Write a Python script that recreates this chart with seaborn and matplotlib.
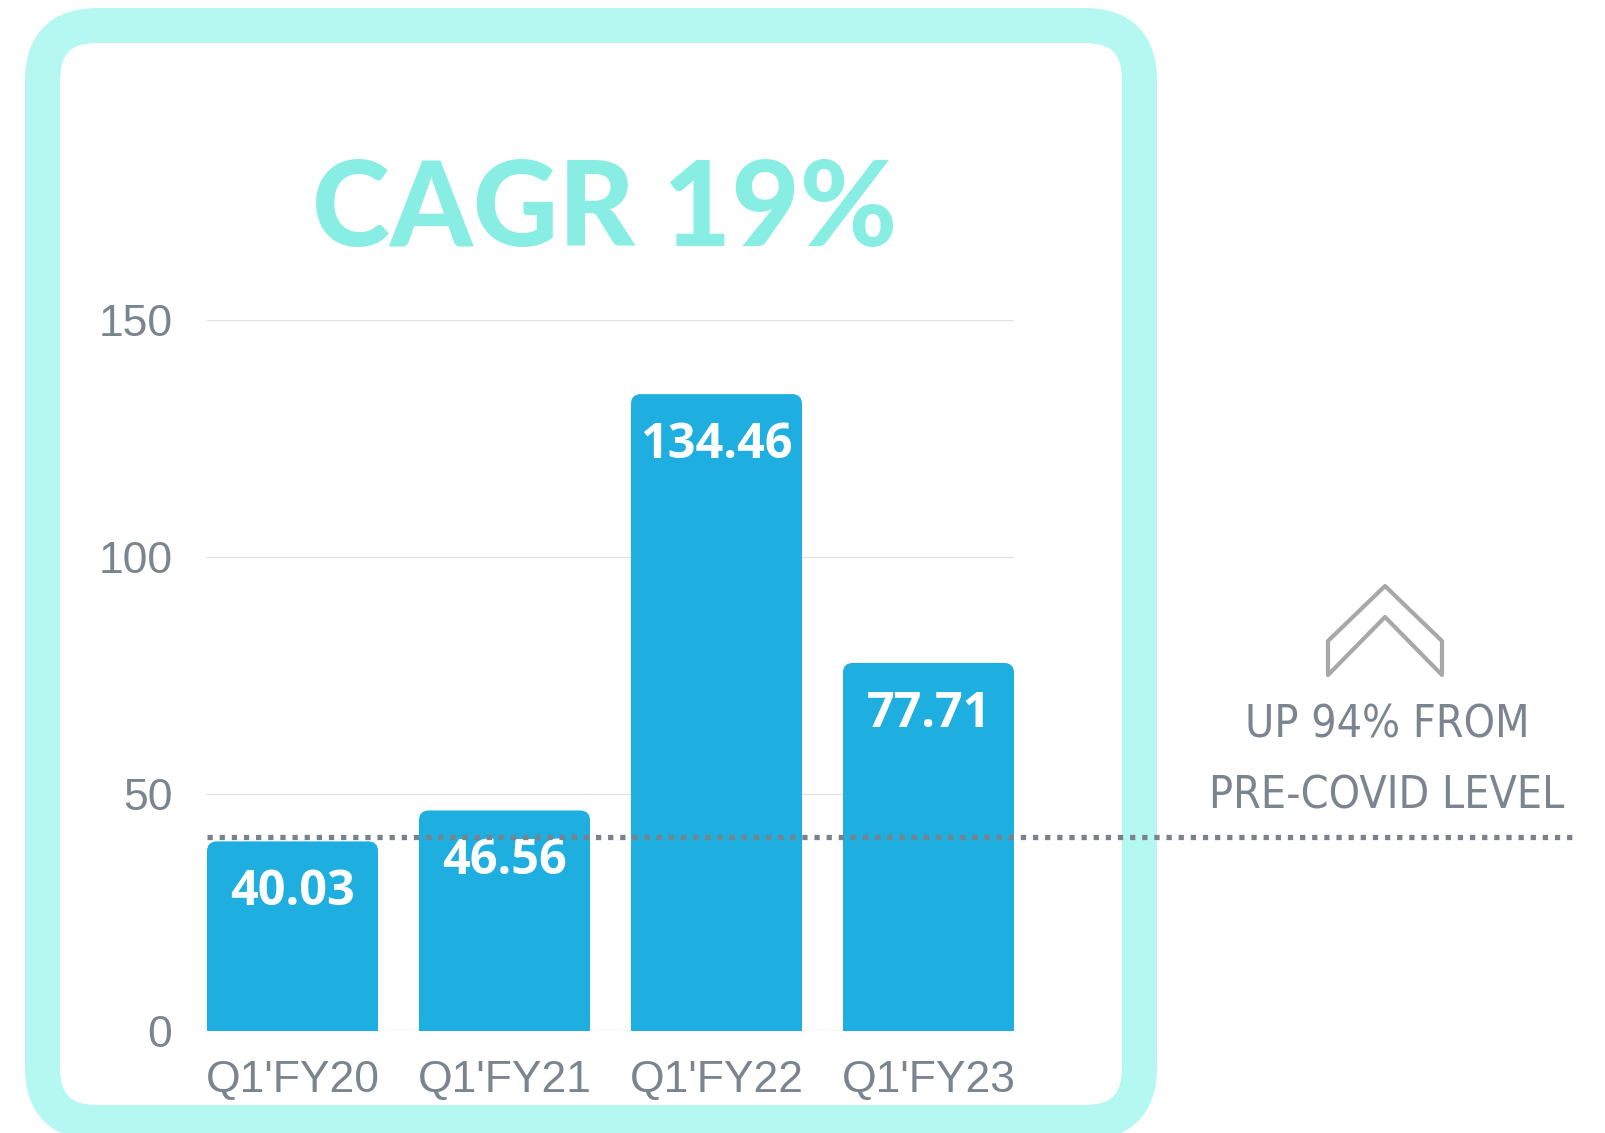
import numpy as np
import pandas as pd
import matplotlib
matplotlib.use('Agg')
import matplotlib.pyplot as plt
import matplotlib.transforms as mtransforms
from matplotlib.patches import FancyBboxPatch, Rectangle, Polygon
from matplotlib.lines import Line2D
import seaborn as sns

# data
quarters = ["Q1'FY20", "Q1'FY21", "Q1'FY22", "Q1'FY23"]
values = [40.03, 46.56, 134.46, 77.71]
y_ticks = [0, 50, 100, 150]
pre_covid_level = 41
title_text = "CAGR 19%"
note_lines = ["UP 94% FROM", "PRE-COVID LEVEL"]

BAR = '#1EAEE0'
FRAME = '#B5F8F2'
TITLE = '#88EEE4'
GREY_TXT = '#7A8590'
DOT = '#7A838C'
CHEVRON = '#A8A8A8'

sns.set_theme(style='white')
plt.rcParams['font.family'] = ['Liberation Sans', 'DejaVu Sans']

W, H = 1606, 1133
fig = plt.figure(figsize=(W / 100, H / 100), dpi=100)

# background overlay in pixel units
bg = fig.add_axes([0, 0, 1, 1], zorder=0)
bg.set_xlim(0, W)
bg.set_ylim(H, 0)
bg.axis('off')

# rounded frame
frame = FancyBboxPatch((42.5, 25.5), 1097, 1097, boxstyle="round,pad=0,rounding_size=55",
                       facecolor='none', edgecolor=FRAME, linewidth=25.2)
bg.add_patch(frame)

# title
bg.text(605, 212, title_text, ha='center', va='center', color=TITLE,
        fontsize=85, fontweight='black', family=['Lato', 'DejaVu Sans'])

# chevron
chev = Polygon([(1385, 586), (1328, 641), (1328, 675), (1385, 617),
                (1442, 675), (1442, 641)], closed=True, facecolor='none',
               edgecolor=CHEVRON, linewidth=3, joinstyle='round')
bg.add_patch(chev)

for y, line in zip([725, 796], note_lines):
    bg.text(1387, y, line, ha='center', va='center', color=GREY_TXT,
            fontsize=32, fontstretch='condensed', family=['DejaVu Sans'])

# main chart
ax = fig.add_axes([207 / W, 1 - 1031 / H, 807 / W, (1031 - 320.5) / H], zorder=1)
ax.set_facecolor('none')
bw = 0.807
df = pd.DataFrame({'quarter': quarters, 'value': values})
sns.barplot(data=df, x='quarter', y='value', color=BAR, saturation=1,
            width=bw, ax=ax, zorder=3)

ax.set_xlim(-bw / 2, len(quarters) - 1 + bw / 2)
ax.set_ylim(0, 150)
ax.set_yticks(y_ticks)
ax.grid(axis='y', color='#E2E2E2', linewidth=1, zorder=0)
ax.grid(axis='x', visible=False)
for s in ax.spines.values():
    s.set_visible(False)
ax.set_xlabel('')
ax.set_ylabel('')
ax.tick_params(axis='y', length=0, pad=25, labelsize=32, labelcolor=GREY_TXT)
ax.tick_params(axis='x', length=0, pad=21, labelsize=32, labelcolor=GREY_TXT)

# rounded top corners on bars
px_x = 807 / (len(quarters) - 1 + bw)
px_y = (1031 - 320.5) / 150
r_px = 10
rx, ry = r_px / px_x, r_px / px_y
for p in list(ax.patches):
    x0, w, h = p.get_x(), p.get_width(), p.get_height()
    p.set_visible(False)
    ax.add_patch(FancyBboxPatch((x0, 0), w, h, boxstyle=f"round,pad=0,rounding_size={rx}",
                                mutation_aspect=ry / rx, facecolor=BAR, edgecolor='none',
                                zorder=3))
    ax.add_patch(Rectangle((x0, 0), w, h / 2, facecolor=BAR, edgecolor='none', zorder=3))
    ax.annotate(f'{h:.2f}', (x0 + w / 2, h), xytext=(0, -37), textcoords='offset points',
                ha='center', va='center', color='white', fontsize=35, fontweight='bold',
                family=['Open Sans', 'DejaVu Sans'], zorder=5)

# dotted pre-covid line
trans = mtransforms.blended_transform_factory(fig.transFigure, ax.transData)
dots = Line2D([207 / W, 1577 / W], [pre_covid_level, pre_covid_level], transform=trans,
              color=DOT, linewidth=3.8, linestyle=(0, (1, 1.3)), dash_capstyle='butt',
              zorder=10)
fig.add_artist(dots)

fig.savefig('out.png', dpi=100)
